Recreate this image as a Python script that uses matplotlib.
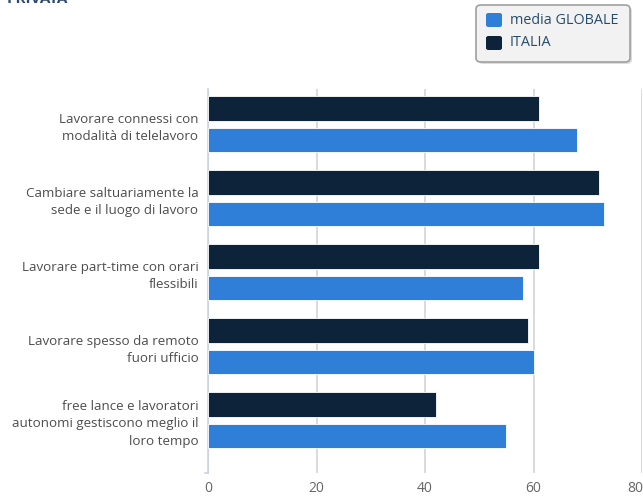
import matplotlib
matplotlib.use("Agg")
import matplotlib.pyplot as plt
from matplotlib.patches import FancyBboxPatch
import matplotlib.transforms as mtransforms
import numpy as np

categories = [
    "Lavorare connessi con\nmodalità di telelavoro",
    "Cambiare saltuariamente la\nsede e il luogo di lavoro",
    "Lavorare part-time con orari\nflessibili",
    "Lavorare spesso da remoto\nfuori ufficio",
    "free lance e lavoratori\nautonomi gestiscono meglio il\nloro tempo",
]
italia = [61, 72, 61, 59, 42]
globale = [68, 73, 58, 60, 55]
xticks = [0, 20, 40, 60, 80]

C_GLOB = "#2f7ed8"
C_ITA = "#0d233a"

plt.rcParams['font.family'] = ['Open Sans', 'DejaVu Sans']

W, H = 643, 497
fig = plt.figure(figsize=(W / 100, H / 100), dpi=100)

left, right, top, bottom = 208, 642, 89, 473
ax = fig.add_axes([left / W, 1 - bottom / H, (right - left) / W, (bottom - top) / H])

y = np.arange(len(categories))
h = 0.335
ax.barh(y - 0.212, italia, height=h, color=C_ITA, edgecolor="white", linewidth=0.6, zorder=3)
ax.barh(y + 0.216, globale, height=h, color=C_GLOB, edgecolor="white", linewidth=0.6, zorder=3)

ax.set_xlim(0, 80)
ax.set_ylim(4.716, -0.473)
ax.set_xticks(xticks)
ax.set_xticklabels([str(t) for t in xticks], fontsize=10, color="#666666")
ax.set_yticks(y)
ax.set_yticklabels(categories, fontsize=9.6, color="#4d4d4d", linespacing=1.45)
ax.tick_params(axis="y", length=0, pad=7)
ax.tick_params(axis="x", length=0, pad=6)

# last tick label pulled inside the figure, as in the reference
last = ax.get_xticklabels()[-1]
last.set_transform(last.get_transform() +
                   mtransforms.ScaledTranslation(-7 / 100, 0, fig.dpi_scale_trans))

ax.grid(axis="x", color="#d4d4d4", linewidth=1.2, zorder=0)
for s in ["top", "right", "bottom"]:
    ax.spines[s].set_visible(False)
ax.spines["left"].set_color("#c8d4e0")
ax.spines["left"].set_linewidth(1.2)

# small tick at bottom of category axis
ax.plot([-0.6, 0], [4.716, 4.716], color="#c8d4e0", linewidth=1.2, clip_on=False, zorder=2)

# partially cut title
fig.text(7 / W, 1 - 6 / H, "PRIVATA", fontsize=11, fontweight="bold", color="#2e4a70",
         ha="left", va="bottom")

# legend box
lx0, ly0, lw, lh = 476, 5, 154, 57
shadow = FancyBboxPatch(((lx0 + 2) / W, 1 - (ly0 + lh + 2) / H), lw / W, lh / H,
                        boxstyle="round,pad=0,rounding_size=0.008", transform=fig.transFigure,
                        facecolor="#bbbbbb", edgecolor="none", alpha=0.5, zorder=1)
box = FancyBboxPatch((lx0 / W, 1 - (ly0 + lh) / H), lw / W, lh / H,
                     boxstyle="round,pad=0,rounding_size=0.008", transform=fig.transFigure,
                     facecolor="#f2f2f2", edgecolor="#a0a0a0", linewidth=1.2, zorder=2)
fig.patches.extend([shadow, box])

items = [("media GLOBALE", C_GLOB, 20), ("ITALIA", C_ITA, 43)]
for label, col, yc in items:
    sq = FancyBboxPatch((486 / W, 1 - (yc + 7) / H), 16 / W, 14 / H,
                        boxstyle="round,pad=0,rounding_size=0.004", transform=fig.transFigure,
                        facecolor=col, edgecolor="none", zorder=3)
    fig.patches.append(sq)
    fig.text(510 / W, 1 - yc / H, label, fontsize=10.4, color="#274b6d",
             ha="left", va="center", zorder=4)

fig.savefig("out.png", dpi=100)
